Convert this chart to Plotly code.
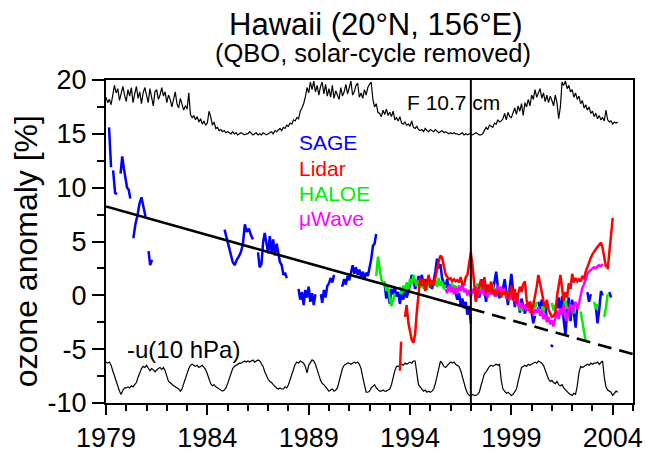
import plotly.graph_objects as go

FONT = "Liberation Sans, Arial, Helvetica, sans-serif"

# ---- axis ranges / ticks -------------------------------------------------
x_range = [1979, 2005]
y_range = [-10, 20]
bottom_ticks = [1979, 1984, 1989, 1994, 1999, 2004]
bottom_ticklabels = ["1979", "1984", "1989", "1994", "1999", "2004"]
top_ticks = [1980, 1985, 1990, 1995, 2000, 2005]
year_ticks = list(range(1979, 2006))
y_ticks = [-10, -5, 0, 5, 10, 15, 20]
y_ticklabels = ["-10", "-5", "0", "5", "10", "15", "20"]

# ---- solar flux (F10.7 cm), scaled into the upper band, monthly from 1979 --
f107_start = 1979.0
f107 = (
    [18.4, 17.9, 18.2, 17.7, 18.6, 19.5, 18.8, 19.2, 18.1, 18.9, 19.4, 18.6]    # 1979
    + [18.0, 19.1, 18.5, 19.3, 17.9, 18.7, 19.4, 18.3, 18.9, 17.8, 18.8, 19.3]  # 1980
    + [18.7, 17.9, 19.2, 18.4, 17.6, 18.9, 19.1, 18.2, 18.6, 19.3, 18.5, 18.9]  # 1981
    + [17.9, 18.6, 18.2, 17.5, 18.4, 18.9, 17.8, 17.4, 18.3, 17.7, 17.2, 17.6]  # 1982
    + [17.3, 18.8, 16.8, 16.5, 16.7, 16.3, 16.6, 16.1, 16.4, 15.9, 16.2, 15.8]  # 1983
    + [16.0, 17.1, 16.6, 15.8, 16.1, 15.5, 15.6, 15.3, 15.4, 15.2, 15.3, 15.1]  # 1984
    + [15.2, 15.1, 15.0, 15.2, 15.0, 15.1, 14.9, 15.0, 15.1, 15.0, 14.9, 15.0]  # 1985
    + [15.0, 15.2, 15.0, 14.9, 15.0, 15.1, 14.9, 15.0, 14.9, 15.1, 15.0, 14.9]  # 1986
    + [15.0, 15.1, 15.2, 15.0, 15.3, 15.2, 15.4, 15.5, 15.3, 15.6, 15.5, 15.8]  # 1987
    + [15.7, 16.0, 15.9, 16.3, 16.2, 16.5, 16.4, 17.1, 17.4, 17.8, 18.4, 19.3]  # 1988
    + [18.8, 19.8, 19.1, 19.9, 18.9, 19.5, 18.6, 19.4, 19.8, 18.7, 19.6, 18.5]  # 1989
    + [19.2, 18.4, 19.5, 18.3, 19.0, 18.6, 18.2, 19.3, 18.5, 18.9, 19.6, 18.7]  # 1990
    + [19.4, 19.9, 18.6, 18.9, 19.5, 19.7, 18.4, 18.8, 18.3, 19.1, 18.6, 19.3]  # 1991
    + [19.6, 19.8, 18.2, 17.5, 17.8, 17.0, 16.9, 16.6, 17.2, 16.8, 17.3, 16.7]  # 1992
    + [17.0, 16.6, 17.1, 16.3, 16.5, 16.2, 16.6, 16.0, 15.9, 16.1, 15.8, 15.9]  # 1993
    + [15.7, 16.2, 15.6, 15.5, 15.7, 15.4, 15.3, 15.4, 15.2, 15.5, 15.3, 15.2]  # 1994
    + [15.4, 15.3, 15.2, 15.4, 15.2, 15.1, 15.2, 15.3, 15.1, 15.2, 15.1, 15.0]  # 1995
    + [15.1, 15.0, 15.1, 15.0, 15.0, 14.9, 15.0, 15.1, 14.9, 15.0, 14.9, 15.0]  # 1996
    + [15.0, 14.9, 15.0, 15.1, 15.0, 14.9, 14.9, 15.0, 15.3, 15.6, 15.4, 15.8]  # 1997
    + [15.7, 15.6, 16.0, 15.9, 16.3, 16.1, 16.2, 16.4, 16.9, 16.3, 17.0, 16.6]  # 1998
    + [16.5, 16.9, 17.4, 16.8, 17.6, 17.1, 17.8, 16.7, 17.9, 17.5, 18.2, 17.6]  # 1999
    + [18.6, 18.2, 19.1, 18.4, 18.9, 19.2, 18.3, 18.8, 18.0, 18.6, 17.9, 18.5]  # 2000
    + [18.1, 17.6, 18.6, 17.9, 16.4, 17.5, 19.8, 19.5, 19.9, 19.2, 19.5, 18.9]  # 2001
    + [19.1, 18.4, 18.8, 18.2, 18.5, 17.8, 18.1, 17.4, 17.7, 17.2, 17.5, 16.9]  # 2002
    + [17.1, 16.6, 16.9, 16.4, 16.7, 16.3, 16.5, 16.2, 17.2, 16.3, 16.1, 16.2]  # 2003
    + [15.9, 16.1, 16.0, 16.1]                                                  # 2004
)

# ---- -u(10 hPa) QBO wind, scaled into the lower band, monthly from 1979 ----
qbo_start = 1979.0
qbo = (
    [-6.2, -6.3, -6.2, -6.5, -7.0, -7.5, -8.0, -8.5, -8.9, -9.2, -8.8, -8.6]    # 1979
    + [-8.6, -8.5, -8.6, -8.4, -8.5, -8.3, -8.1, -7.6, -7.1, -6.8, -6.6, -6.7]  # 1980
    + [-6.5, -6.7, -7.0, -6.8, -6.9, -7.1, -6.9, -6.8, -6.7, -6.9, -6.7, -7.0]  # 1981
    + [-7.5, -8.0, -8.1, -8.3, -8.4, -8.5, -8.6, -8.7, -8.9, -8.7, -8.2, -7.7]  # 1982
    + [-7.2, -6.8, -6.5, -6.4, -6.5, -6.6, -6.5, -6.7, -6.6, -6.5, -6.7, -6.9]  # 1983
    + [-7.3, -7.8, -8.2, -8.4, -8.3, -8.5, -8.6, -8.7, -8.8, -8.9, -8.8, -8.6]  # 1984
    + [-8.2, -7.7, -7.2, -6.8, -6.6, -6.5, -6.4, -6.3, -6.3, -6.2, -6.1, -6.2]  # 1985
    + [-6.1, -6.2, -6.1, -6.0, -6.2, -6.1, -6.0, -6.1, -6.3, -6.6, -7.1, -7.5]  # 1986
    + [-7.8, -8.0, -8.1, -8.3, -8.5, -8.6, -8.7, -8.6, -8.7, -8.7, -8.5, -8.6]  # 1987
    + [-8.3, -7.8, -7.2, -6.7, -6.4, -6.2, -6.3, -6.1, -6.2, -6.3, -6.6, -7.2]  # 1988
    + [-6.5, -6.2, -6.0, -6.1, -6.4, -6.9, -7.5, -7.9, -8.2, -8.3, -8.5, -8.7]  # 1989
    + [-8.9, -8.8, -8.7, -8.9, -8.8, -8.6, -8.0, -7.3, -6.8, -6.5, -6.4, -6.3]  # 1990
    + [-6.3, -6.4, -6.3, -6.2, -6.3, -6.2, -6.4, -6.8, -7.6, -8.5, -9.0, -9.0]  # 1991
    + [-8.9, -8.6, -8.4, -8.3, -8.6, -8.8, -8.9, -8.9, -8.8, -8.9, -8.9, -8.8]  # 1992
    + [-8.7, -8.3, -7.6, -7.0, -6.6, -6.6, -6.5, -6.4, -6.5, -6.3, -6.4, -6.3]  # 1993
    + [-6.2, -6.3, -6.1, -6.1, -7.4, -8.3, -8.5, -8.7, -8.9, -8.8, -9.0, -8.9]  # 1994
    + [-9.0, -8.9, -8.7, -8.2, -7.4, -6.7, -6.1, -6.3, -6.6, -6.7, -6.5, -6.3]  # 1995
    + [-6.2, -6.3, -6.2, -6.4, -6.5, -6.6, -7.0, -7.6, -8.2, -8.7, -9.1, -9.3]  # 1996
    + [-9.3, -9.2, -9.3, -9.3, -9.2, -9.0, -8.4, -7.8, -7.3, -7.1, -6.8, -6.6]  # 1997
    + [-6.5, -6.6, -6.5, -6.4, -6.5, -6.4, -7.9, -8.7, -8.9, -9.1, -9.0, -9.2]  # 1998
    + [-9.3, -9.2, -9.0, -8.7, -8.0, -7.2, -6.7, -6.6, -6.5, -6.6, -6.4, -6.5]  # 1999
    + [-6.4, -6.3, -6.2, -6.3, -6.1, -6.2, -6.3, -6.5, -6.9, -7.4, -7.8, -8.0]  # 2000
    + [-7.9, -8.1, -8.2, -8.0, -8.3, -8.4, -8.3, -8.6, -8.8, -8.9, -9.1, -9.2]  # 2001
    + [-9.3, -9.1, -9.2, -8.4, -7.2, -6.6, -6.7, -6.6, -6.5, -6.4, -6.5, -6.3]  # 2002
    + [-6.4, -6.3, -6.3, -6.2, -6.4, -6.2, -6.1, -7.6, -8.5, -8.8, -8.9, -9.0]  # 2003
    + [-9.3, -9.1, -8.9, -9.0]                                                  # 2004
)

# ---- ozone anomaly records [%]: segments of (year, value) -------------------
sage = [
    [(1979.15, 15.6), (1979.25, 11.9)],
    [(1979.35, 11.6), (1979.45, 9.5), (1979.55, 9.4)],
    [(1979.72, 11.3), (1979.80, 12.9), (1979.88, 11.8), (1979.96, 11.0),
     (1980.04, 10.0), (1980.12, 9.8), (1980.20, 9.0)],
    [(1980.35, 5.3), (1980.45, 6.6), (1980.55, 7.4), (1980.65, 8.5),
     (1980.75, 9.1), (1980.85, 8.2), (1980.95, 7.3)],
    [(1981.10, 4.1), (1981.18, 2.8), (1981.27, 3.3)],
    [(1984.85, 6.1), (1984.95, 5.3), (1985.05, 4.6), (1985.15, 3.7), (1985.25, 3.1),
     (1985.35, 2.8), (1985.45, 3.3), (1985.55, 3.6), (1985.65, 4.0), (1985.75, 4.7),
     (1985.85, 6.6), (1985.95, 5.9), (1986.05, 6.2), (1986.15, 5.6), (1986.25, 5.2)],
    [(1986.50, 4.0), (1986.58, 2.6), (1986.67, 2.9), (1986.75, 4.9), (1986.83, 5.8),
     (1986.92, 4.6), (1987.00, 3.9), (1987.08, 5.5), (1987.17, 4.0), (1987.25, 5.2),
     (1987.33, 3.7), (1987.42, 4.8), (1987.50, 3.7), (1987.58, 3.1), (1987.67, 2.8),
     (1987.75, 1.9), (1987.83, 2.1), (1987.92, 1.6)],
    [(1988.50, 0.6), (1988.58, -0.4), (1988.67, 0.3), (1988.75, -0.9), (1988.83, 0.5),
     (1988.92, -0.2), (1989.00, 0.8), (1989.08, -0.6), (1989.17, 0.2), (1989.25, -0.9),
     (1989.33, 0.1)],
    [(1989.60, 0.1), (1989.67, -0.7), (1989.75, 0.5), (1989.83, -0.2), (1989.92, 0.9),
     (1990.00, 1.1), (1990.08, 1.6), (1990.17, 1.2), (1990.25, 1.9)],
    [(1990.65, 0.8), (1990.75, 1.5), (1990.83, 1.0), (1990.92, 1.8), (1991.00, 1.4),
     (1991.08, 2.1), (1991.17, 2.8), (1991.25, 2.0), (1991.33, 2.6), (1991.42, 1.9),
     (1991.50, 2.4), (1991.58, 1.7), (1991.67, 2.2), (1991.75, 1.5), (1991.83, 2.1),
     (1991.92, 1.8), (1992.00, 2.6), (1992.08, 3.3), (1992.17, 4.6), (1992.25, 4.8),
     (1992.33, 5.7)],
    [(1992.75, 1.0), (1992.83, -0.3), (1992.92, 0.4), (1993.00, -0.8), (1993.08, 0.6),
     (1993.17, 0.1), (1993.25, 0.7), (1993.33, -0.1), (1993.42, 0.3), (1993.50, -0.8),
     (1993.58, 0.2), (1993.67, -0.4), (1993.75, 0.5), (1993.83, -0.2), (1993.92, 0.3),
     (1994.00, 1.2), (1994.08, 1.9), (1994.17, 1.4), (1994.25, 0.6), (1994.33, 0.9),
     (1994.42, 1.8), (1994.50, 1.2), (1994.58, 1.9), (1994.67, 1.0), (1994.75, 1.5),
     (1994.83, 0.8), (1994.92, 1.7), (1995.00, 1.1), (1995.08, 0.6), (1995.17, 1.4),
     (1995.25, 2.2), (1995.33, 3.4), (1995.42, 2.5), (1995.50, 2.9), (1995.58, 1.6),
     (1995.67, 1.1), (1995.75, 0.7), (1995.83, 1.5), (1995.92, 0.5), (1996.00, 1.0),
     (1996.08, 0.3), (1996.17, 0.9), (1996.25, 0.1), (1996.33, -0.4), (1996.42, 0.2),
     (1996.50, -0.9), (1996.58, -0.3), (1996.67, -1.2), (1996.75, -0.6), (1996.83, -1.8),
     (1996.92, -1.0), (1997.00, -2.6)],
    [(1997.08, 0.3), (1997.17, 0.6), (1997.25, -0.4), (1997.33, 0.5), (1997.42, -0.2),
     (1997.50, 0.9), (1997.58, 1.5), (1997.67, 0.4), (1997.75, -0.6), (1997.83, 0.7),
     (1997.92, 0.1), (1998.00, 1.1), (1998.08, 0.2), (1998.17, 1.3), (1998.25, 2.2),
     (1998.33, 0.8), (1998.42, -0.3)],
    [(1998.58, 0.6), (1998.67, 1.5), (1998.75, 0.3), (1998.83, -0.9), (1998.92, 0.8),
     (1999.00, 2.0), (1999.08, 0.5), (1999.17, -1.1), (1999.25, 0.2), (1999.33, -0.5),
     (1999.42, -1.6), (1999.50, -0.3), (1999.58, -1.0), (1999.67, -1.7), (1999.75, -0.8),
     (1999.83, -1.4), (1999.92, -0.6), (2000.00, -1.5), (2000.08, -2.6), (2000.17, -1.9)],
    [(2000.33, -0.6), (2000.42, -1.3), (2000.50, -0.4), (2000.58, -1.6), (2000.67, -0.9),
     (2000.75, -2.2)],
    [(2000.95, -4.6), (2001.05, -4.8)],
    [(2001.25, -1.2), (2001.33, -0.2), (2001.42, -1.8), (2001.50, -0.1), (2001.58, -2.3),
     (2001.67, -3.7), (2001.75, -1.5), (2001.83, -0.2), (2001.92, -2.4), (2002.00, -0.4),
     (2002.08, -1.6), (2002.17, -3.0), (2002.25, -0.9)],
    [(2002.75, 0.3), (2002.83, -0.6), (2002.92, 0.1)],
    [(2003.17, -1.1), (2003.25, -2.6), (2003.33, -1.4), (2003.42, 0.4), (2003.50, 0.0)],
    [(2003.83, 0.3), (2003.92, -0.2)],
]

lidar = [
    [(1993.50, -7.0), (1993.56, -4.3)],
    [(1993.75, -2.0), (1993.83, -0.9), (1993.92, -2.6), (1994.00, -3.4), (1994.08, -4.1),
     (1994.17, -4.4), (1994.25, -3.6), (1994.33, -1.6), (1994.42, 0.3), (1994.50, 1.6),
     (1994.58, 0.9), (1994.67, 1.5), (1994.75, 0.4), (1994.83, 1.1), (1994.92, 1.9),
     (1995.00, 0.7), (1995.08, 1.4), (1995.17, 0.9), (1995.25, 1.8), (1995.33, 2.4),
     (1995.42, 3.2), (1995.50, 3.7), (1995.58, 3.5), (1995.67, 2.8), (1995.75, 2.0),
     (1995.83, 1.7), (1995.92, 1.5), (1996.00, 1.6), (1996.08, 1.3), (1996.17, 1.5),
     (1996.25, 1.3), (1996.33, 1.4), (1996.42, 1.2), (1996.50, 1.7), (1996.58, 1.0),
     (1996.67, 1.0), (1996.75, 1.7), (1996.83, 1.9), (1996.92, 2.9), (1997.00, 4.0),
     (1997.08, 2.8), (1997.17, 1.2), (1997.25, -0.6), (1997.33, 0.4), (1997.42, 0.8),
     (1997.50, 1.5), (1997.58, 0.6), (1997.67, 1.7), (1997.75, 0.2), (1997.83, 1.0),
     (1997.92, 0.3), (1998.00, 1.3), (1998.08, 0.1), (1998.17, 0.5), (1998.25, -0.1),
     (1998.33, 0.4), (1998.42, 0.3), (1998.50, -0.2), (1998.58, 0.4), (1998.67, 0.1),
     (1998.75, 0.4), (1998.83, -0.3), (1998.92, 0.2), (1999.00, 0.9), (1999.08, -0.4),
     (1999.17, 0.6), (1999.25, -0.8), (1999.33, 0.1), (1999.42, 0.8), (1999.50, 0.3),
     (1999.58, 1.0), (1999.67, 1.3), (1999.75, -0.4), (1999.83, -1.2), (1999.92, -0.6),
     (2000.00, -1.7), (2000.08, -0.9), (2000.17, -0.2), (2000.25, 0.8), (2000.33, 1.9),
     (2000.42, 1.2), (2000.50, 0.3), (2000.58, -0.5), (2000.67, -1.1), (2000.75, -0.4),
     (2000.83, -1.3), (2000.92, -1.7), (2001.00, -2.0), (2001.08, -1.9), (2001.17, -1.6),
     (2001.25, -0.1), (2001.33, 1.0), (2001.42, 1.9), (2001.50, 0.7), (2001.58, -0.5),
     (2001.67, 0.3), (2001.75, -0.2), (2001.83, 1.1), (2001.92, 0.6), (2002.00, 2.0),
     (2002.08, 1.2), (2002.17, 1.6), (2002.25, 1.3), (2002.33, 1.5), (2002.42, 1.3),
     (2002.50, 1.8), (2002.58, 1.5), (2002.67, 2.2), (2002.75, 2.6), (2002.83, 3.2),
     (2002.92, 3.5), (2003.00, 3.8), (2003.08, 4.1), (2003.17, 4.3), (2003.25, 4.5),
     (2003.33, 4.7), (2003.42, 4.9), (2003.50, 4.4), (2003.58, 3.6), (2003.67, 2.6)],
    [(2003.75, 2.4), (2003.83, 4.0), (2003.92, 5.5), (2004.00, 7.2)],
]

haloe = [
    [(1992.33, 1.8), (1992.42, 3.6), (1992.50, 2.5), (1992.58, 1.5), (1992.67, 1.0),
     (1992.75, 1.3), (1992.83, 0.4), (1992.92, 0.8), (1993.00, -0.3), (1993.08, -1.0),
     (1993.17, -0.4), (1993.25, 0.2)],
    [(1993.50, 0.8), (1993.58, 0.1), (1993.67, 0.9), (1993.75, 0.3), (1993.83, 1.2),
     (1993.92, 0.6), (1994.00, 1.5), (1994.08, 1.0), (1994.17, 1.9), (1994.25, 1.3),
     (1994.33, 0.8), (1994.42, 1.4), (1994.50, 0.7), (1994.58, 1.2), (1994.67, 0.6),
     (1994.75, 1.1), (1994.83, 0.5), (1994.92, 1.3), (1995.00, 0.9)],
    [(1995.25, 1.4), (1995.33, 0.8), (1995.42, 1.6), (1995.50, 0.9), (1995.58, 1.3),
     (1995.67, 0.6), (1995.75, 1.0)],
    [(1996.00, 0.5), (1996.08, 1.1), (1996.17, 0.4), (1996.25, 0.9), (1996.33, 0.2),
     (1996.42, 0.7)],
    [(1997.25, 0.6), (1997.33, 1.1), (1997.42, 0.3), (1997.50, 0.8), (1997.58, 0.2),
     (1997.67, 0.9)],
    [(1998.00, 0.5), (1998.08, 1.0), (1998.17, 0.2), (1998.25, 0.7)],
    [(1998.67, 0.4), (1998.75, -0.3), (1998.83, 0.3), (1998.92, -0.5)],
    [(1999.33, -0.6), (1999.42, -1.4), (1999.50, -0.8), (1999.58, -1.5)],
    [(2000.08, -0.5), (2000.17, -1.2), (2000.25, -0.6)],
    [(2000.50, -1.0), (2000.58, -1.6), (2000.67, -0.8)],
    [(2001.00, -0.7), (2001.08, -1.4), (2001.17, -0.9)],
    [(2001.58, -1.2), (2001.67, -0.5), (2001.75, -1.3)],
    [(2002.00, -0.9), (2002.08, -1.7)],
    [(2002.42, -1.5), (2002.50, -2.4), (2002.58, -3.3), (2002.67, -4.3)],
    [(2003.08, -0.6), (2003.17, -1.3), (2003.25, -0.8)],
    [(2003.58, -2.0), (2003.67, -1.1), (2003.75, 0.1)],
]

mwave = [
    [(1995.75, 0.6), (1995.83, 0.2), (1995.92, 0.9), (1996.00, 0.3), (1996.08, 0.8),
     (1996.17, 0.1), (1996.25, 0.7), (1996.33, 0.2), (1996.42, 0.9), (1996.50, 0.4),
     (1996.58, 1.0), (1996.67, 0.3), (1996.75, 0.6), (1996.83, 0.0), (1996.92, 0.5),
     (1997.00, -0.2), (1997.08, 0.6), (1997.17, 0.2), (1997.25, 0.8), (1997.33, -0.1),
     (1997.42, 0.5), (1997.50, 0.1), (1997.58, 0.7), (1997.67, 0.0), (1997.75, 0.4),
     (1997.83, -0.2), (1997.92, 0.5), (1998.00, 0.1), (1998.08, 0.6), (1998.17, -0.1),
     (1998.25, 0.3), (1998.33, 0.9), (1998.42, 0.4), (1998.50, 0.8), (1998.58, 0.2),
     (1998.67, 0.6), (1998.75, -0.3), (1998.83, 0.2), (1998.92, -0.4), (1999.00, 0.1),
     (1999.08, -0.5), (1999.17, -0.2), (1999.25, -0.9), (1999.33, -0.4), (1999.42, -1.2),
     (1999.50, -0.7), (1999.58, -1.3), (1999.67, -0.9), (1999.75, -1.4), (1999.83, -1.0),
     (1999.92, -1.6), (2000.00, -1.2), (2000.08, -1.8), (2000.17, -1.3), (2000.25, -1.6),
     (2000.33, -1.1), (2000.42, -1.9), (2000.50, -1.4), (2000.58, -2.2), (2000.67, -1.7),
     (2000.75, -2.5), (2000.83, -2.0), (2000.92, -2.7), (2001.00, -2.3), (2001.08, -2.9),
     (2001.17, -2.1), (2001.25, -1.4), (2001.33, -2.2), (2001.42, -1.2), (2001.50, -1.8),
     (2001.58, -0.9), (2001.67, -1.6), (2001.75, -2.4), (2001.83, -1.3), (2001.92, -0.8),
     (2002.00, -1.7), (2002.08, -1.0), (2002.17, -0.6), (2002.25, -1.3), (2002.33, -0.8),
     (2002.42, 0.1), (2002.50, 0.7), (2002.58, 1.0), (2002.67, 1.6), (2002.75, 2.0),
     (2002.83, 2.2), (2002.92, 2.4), (2003.00, 2.5), (2003.08, 2.6), (2003.17, 2.5),
     (2003.25, 2.7), (2003.33, 2.8), (2003.42, 2.7), (2003.50, 2.9)],
]

# linear trend fitted up to 1997 and its extrapolation to 2005
trend_years = [1979, 1997, 2005]
trend_values = [8.25, -1.25, -5.47]
split_year = 1997

BLUE, RED, GREEN, MAGENTA = "#0000ff", "#ff0000", "#00ee00", "#ff00ff"
PLOT_H = 464 - 80 - 52                                  # plotting area height, px
UNITS_PER_PX = (y_range[1] - y_range[0]) / PLOT_H


def flatten(segments):
    xs, ys = [], []
    for seg in segments:
        for t, v in seg:
            xs.append(t)
            ys.append(v)
        xs.append(None)
        ys.append(None)
    return xs, ys


def monthly_years(start, n):
    return [start + i / 12 for i in range(n)]


fig = go.Figure()

fig.add_trace(go.Scatter(x=monthly_years(f107_start, len(f107)), y=f107, mode="lines",
                         line=dict(color="black", width=1.2)))
fig.add_trace(go.Scatter(x=monthly_years(qbo_start, len(qbo)), y=qbo, mode="lines",
                         line=dict(color="black", width=1.2)))

for segs, col in [(sage, BLUE), (haloe, GREEN), (mwave, MAGENTA), (lidar, RED)]:
    xs, ys = flatten(segs)
    fig.add_trace(go.Scatter(x=xs, y=ys, mode="lines", connectgaps=False,
                             line=dict(color=col, width=2.5)))

fig.add_trace(go.Scatter(x=trend_years[:2], y=trend_values[:2], mode="lines",
                         line=dict(color="black", width=2.6)))
fig.add_trace(go.Scatter(x=trend_years[1:], y=trend_values[1:], mode="lines",
                         line=dict(color="black", width=2.6, dash="14px,8px")))

# 1997 divider
fig.add_trace(go.Scatter(x=[split_year, split_year], y=y_range, mode="lines",
                         line=dict(color="black", width=2)))

# year ticks standing on the top frame (longer every five years)
for ticks, length, width in [([t for t in year_ticks if t not in top_ticks], 6, 1.5),
                             (top_ticks, 10, 2)]:
    fig.add_trace(go.Scatter(
        x=ticks, y=[y_range[1] + length / 2 * UNITS_PER_PX] * len(ticks),
        mode="markers", cliponaxis=False, hoverinfo="skip",
        marker=dict(symbol="line-ns", size=length, color="black",
                    line=dict(color="black", width=width))))

axis_common = dict(showgrid=False, zeroline=False, showline=True, linecolor="black",
                   linewidth=2, ticks="outside", tickcolor="black", tickwidth=2)

fig.update_layout(
    width=653, height=464, autosize=False,
    margin=dict(l=106, r=11, t=80, b=52),
    paper_bgcolor="white", plot_bgcolor="white",
    showlegend=False,
    font=dict(family=FONT, color="black"),
    xaxis=dict(range=x_range, tickmode="array", tickvals=bottom_ticks,
               ticktext=bottom_ticklabels, ticklen=10, mirror=True,
               tickfont=dict(size=27, family=FONT),
               minor=dict(tickmode="array", tickvals=year_ticks, ticklen=6,
                          tickwidth=1.5, ticks="outside", tickcolor="black"),
               **axis_common),
    yaxis=dict(range=y_range, tickmode="array", tickvals=y_ticks,
               ticktext=y_ticklabels, ticklen=12, mirror=True,
               tickfont=dict(size=27, family=FONT),
               minor=dict(tick0=-10, dtick=2.5, ticklen=7, tickwidth=1.5,
                          ticks="outside", tickcolor="black"),
               **axis_common),
)

annotations = [
    dict(text="Hawaii (20°N, 156°E)", xref="paper", yref="paper", x=0.513, y=1.1717,
         font=dict(size=31), xanchor="center", yanchor="middle"),
    dict(text="(QBO, solar-cycle removed)", xref="paper", yref="paper", x=0.5065,
         y=1.0843, font=dict(size=25.5), xanchor="center", yanchor="middle"),
    dict(text="ozone anomaly [%]", xref="paper", yref="paper", x=-0.153, y=0.471,
         textangle=-90, font=dict(size=32), xanchor="center", yanchor="middle"),
    dict(text="SAGE", x=1988.4, y=14.2, font=dict(size=21, color=BLUE)),
    dict(text="Lidar", x=1988.4, y=11.8, font=dict(size=21, color=RED)),
    dict(text="HALOE", x=1988.4, y=9.45, font=dict(size=21, color=GREEN)),
    dict(text="μWave", x=1988.4, y=7.1, font=dict(size=21, color=MAGENTA)),
    dict(text="F 10.7 cm", x=1993.74, y=17.9, font=dict(size=21)),
    dict(text="-u(10 hPa)", x=1979.92, y=-5.05, font=dict(size=24)),
]
for a in annotations:
    a.setdefault("xref", "x")
    a.setdefault("yref", "y")
    a.setdefault("xanchor", "left")
    a.setdefault("yanchor", "middle")
    a["showarrow"] = False
    a["font"].setdefault("family", FONT)
    a["font"].setdefault("color", "black")
    fig.add_annotation(**a)

fig.write_html("out.html")
